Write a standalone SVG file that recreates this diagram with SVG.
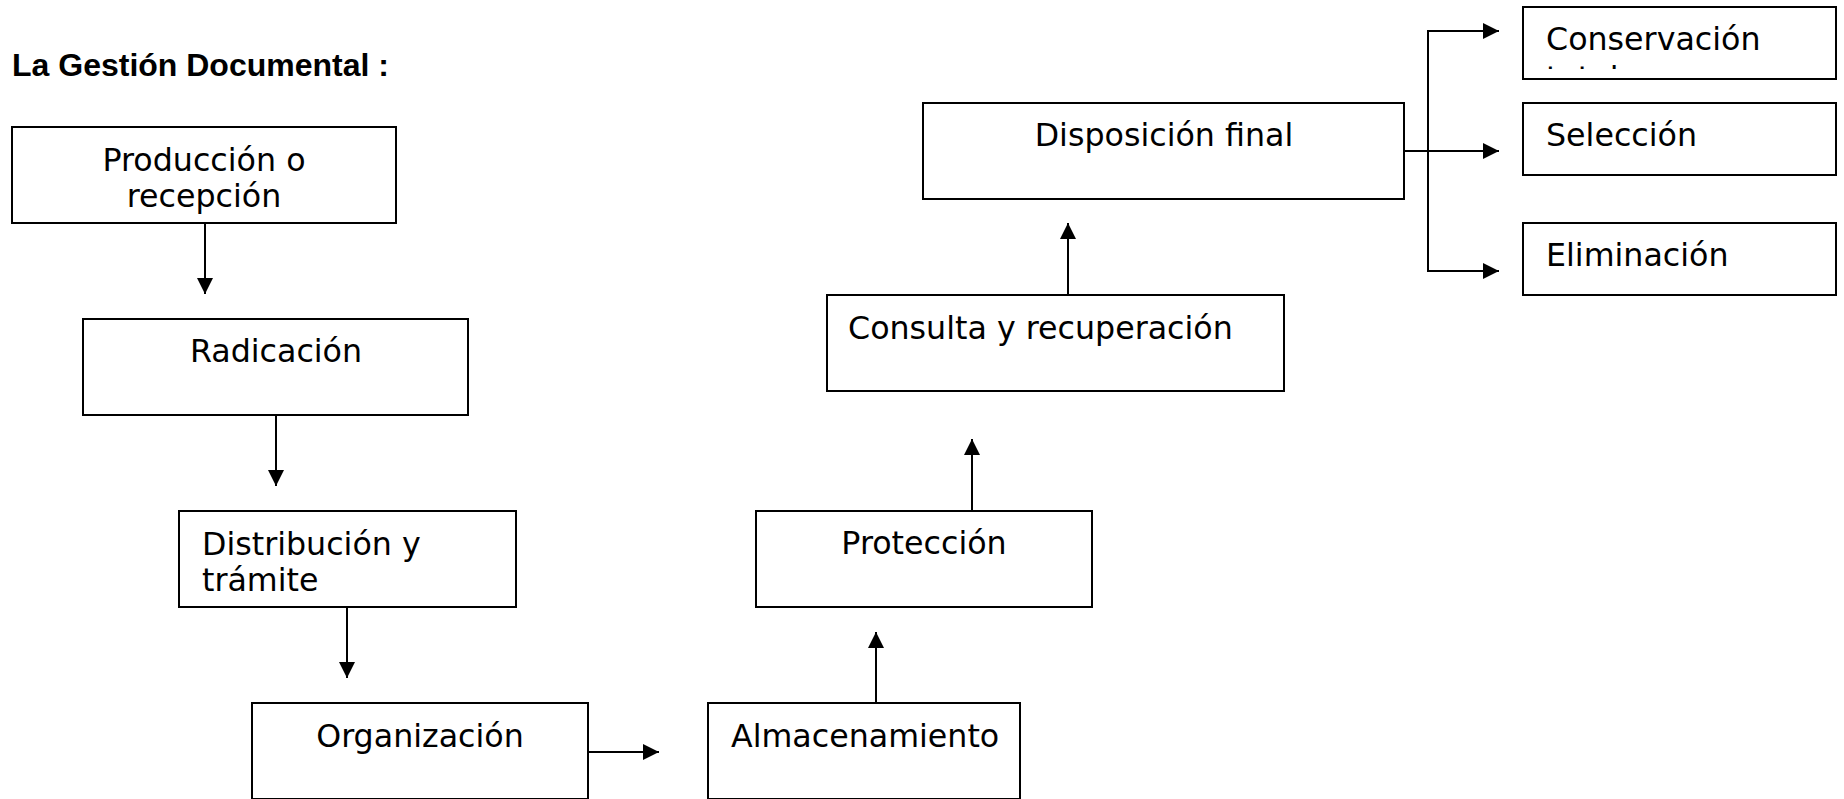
<svg xmlns="http://www.w3.org/2000/svg" width="1844" height="799" viewBox="0 0 1844 799">
<style>
.box{fill:#fff;stroke:#000;stroke-width:2}
.t{font-family:"DejaVu Sans",Verdana,sans-serif;font-size:31.7px;fill:#000}
.c{text-anchor:middle}
.title{font-family:"Liberation Sans",Arial,sans-serif;font-size:32px;font-weight:bold;fill:#000}
.ln{fill:none;stroke:#000;stroke-width:2}
</style>
<defs>
<marker id="ah" markerUnits="userSpaceOnUse" markerWidth="17" markerHeight="17" refX="16" refY="8" orient="auto">
<path d="M0,0 L16,8 L0,16 Z" fill="#000"/>
</marker>
<clipPath id="clipCons"><rect x="1524" y="8" width="311" height="61"/></clipPath>
</defs>
<rect width="1844" height="799" fill="#fff"/>
<text class="title" x="12" y="76">La Gestión Documental :</text>

<g id="connectors">
<line class="ln" x1="205" y1="223" x2="205" y2="294" marker-end="url(#ah)"/>
<line class="ln" x1="276" y1="415" x2="276" y2="486" marker-end="url(#ah)"/>
<line class="ln" x1="347" y1="607" x2="347" y2="678" marker-end="url(#ah)"/>
<line class="ln" x1="588" y1="752" x2="659" y2="752" marker-end="url(#ah)"/>
<line class="ln" x1="876" y1="703" x2="876" y2="632" marker-end="url(#ah)"/>
<line class="ln" x1="972" y1="511" x2="972" y2="439" marker-end="url(#ah)"/>
<line class="ln" x1="1068" y1="295" x2="1068" y2="223" marker-end="url(#ah)"/>
<line class="ln" x1="1404" y1="151" x2="1499" y2="151" marker-end="url(#ah)"/>
<line class="ln" x1="1428" y1="30" x2="1428" y2="272"/>
<line class="ln" x1="1427" y1="31" x2="1499" y2="31" marker-end="url(#ah)"/>
<line class="ln" x1="1427" y1="271" x2="1499" y2="271" marker-end="url(#ah)"/>
</g>

<g id="produccion">
<rect class="box" x="12" y="127" width="384" height="96"/>
<text class="t c" x="204" y="171">Producción o</text>
<text class="t c" x="204" y="207">recepción</text>
</g>
<g id="radicacion">
<rect class="box" x="83" y="319" width="385" height="96"/>
<text class="t c" x="276" y="362">Radicación</text>
</g>
<g id="distribucion">
<rect class="box" x="179" y="511" width="337" height="96"/>
<text class="t" x="202" y="555">Distribución y</text>
<text class="t" x="202" y="591">trámite</text>
</g>
<g id="organizacion">
<rect class="box" x="252" y="703" width="336" height="96"/>
<text class="t c" x="420" y="747">Organización</text>
</g>
<g id="almacenamiento">
<rect class="box" x="708" y="703" width="312" height="96"/>
<text class="t" x="731" y="747">Almacenamiento</text>
</g>
<g id="proteccion">
<rect class="box" x="756" y="511" width="336" height="96"/>
<text class="t c" x="924" y="554">Protección</text>
</g>
<g id="consulta">
<rect class="box" x="827" y="295" width="457" height="96"/>
<text class="t" x="848" y="339">Consulta y recuperación</text>
</g>
<g id="disposicion">
<rect class="box" x="923" y="103" width="481" height="96"/>
<text class="t c" x="1164" y="146">Disposición final</text>
</g>
<g id="conservacion">
<rect class="box" x="1523" y="7" width="313" height="72"/>
<g clip-path="url(#clipCons)">
<text class="t" x="1546" y="50">Conservación</text>
<text class="t" x="1546" y="89">total</text>
</g>
</g>
<g id="seleccion">
<rect class="box" x="1523" y="103" width="313" height="72"/>
<text class="t" x="1546" y="146">Selección</text>
</g>
<g id="eliminacion">
<rect class="box" x="1523" y="223" width="313" height="72"/>
<text class="t" x="1546" y="266">Eliminación</text>
</g>
</svg>
